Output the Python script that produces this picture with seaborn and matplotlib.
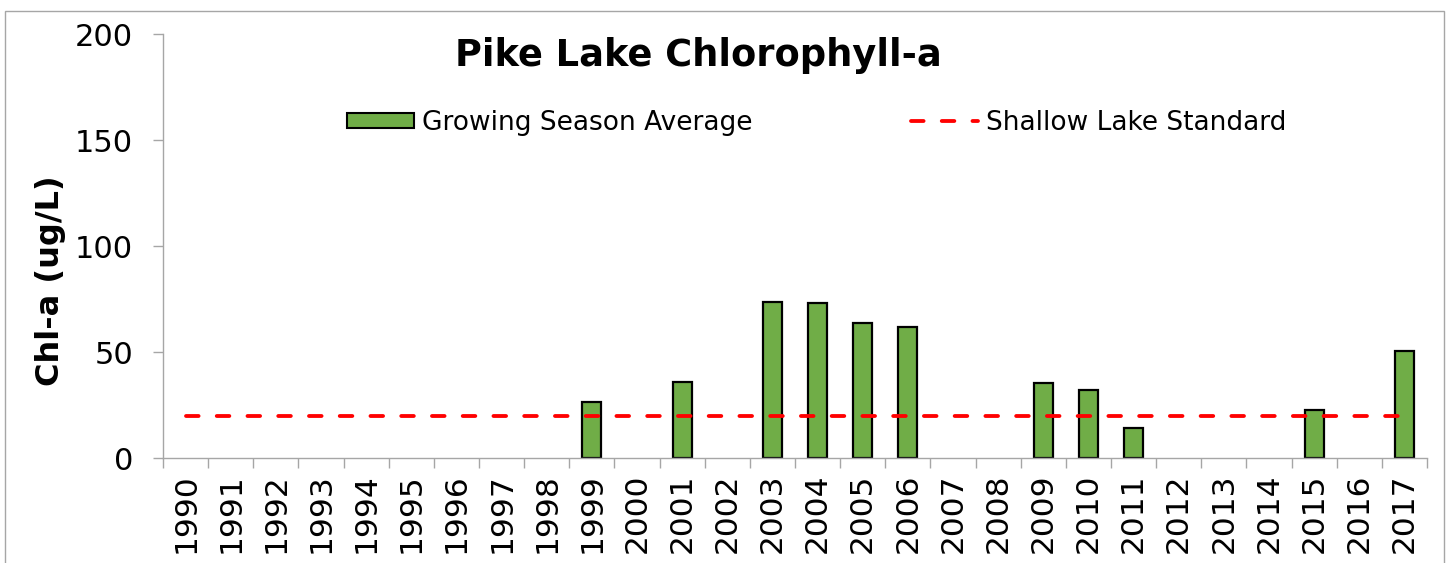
import numpy as np
import pandas as pd
import matplotlib
matplotlib.use("Agg")
import matplotlib.pyplot as plt
from matplotlib.patches import Patch, Rectangle
from matplotlib.lines import Line2D
import seaborn as sns

# Dados: clorofila-a média da estação de crescimento, Pike Lake
anos = [str(a) for a in range(1990, 2018)]
anos_medidos = ["1999", "2001", "2003", "2004", "2005", "2006",
                "2009", "2010", "2011", "2015", "2017"]
chla_media = [26.6, 36.0, 73.7, 73.0, 63.5, 61.6, 35.5, 32.1, 14.0, 22.6, 50.6]
padrao_lago_raso = 20
yticks = [0, 50, 100, 150, 200]

dados = pd.DataFrame({"Ano": anos_medidos, "Chla": chla_media})
padrao = pd.DataFrame({"pos": np.arange(len(anos)),
                       "Chla": [padrao_lago_raso] * len(anos)})

sns.set_theme(style="ticks", rc={"text.color": "black",
                                 "xtick.labelcolor": "black",
                                 "ytick.labelcolor": "black",
                                 "axes.labelcolor": "black"})
plt.rcParams["font.family"] = ["DejaVu Sans"]

cinza = "#a6a6a6"
verde = "#70ad47"

fig = plt.figure(figsize=(14.52, 5.63), dpi=100)
ax = fig.add_axes([163 / 1452, 1 - 458 / 563, 1264 / 1452, 424 / 563])

sns.barplot(data=dados, x="Ano", y="Chla", order=anos, color=verde,
            edgecolor="black", linewidth=1.6, width=0.42, saturation=1, ax=ax)

sns.lineplot(data=padrao, x="pos", y="Chla", color="red", lw=2.75,
             linestyle=(0, (3.3, 4.75)), ax=ax)
for ln in ax.lines:
    ln.set_dash_capstyle("round")

ax.set_xlim(-0.5, len(anos) - 0.5)
ax.set_ylim(0, 200)
ax.set_yticks(yticks)
ax.set_xticks(np.arange(len(anos)))
ax.set_xticklabels(anos, rotation=90, fontsize=22.5)
ax.set_xticks(np.arange(len(anos) + 1) - 0.5, minor=True)
ax.tick_params(axis="x", which="major", length=0, pad=11)
ax.tick_params(axis="x", which="minor", length=7.5, width=1, color=cinza)
ax.tick_params(axis="y", length=7.5, width=1, color=cinza, labelsize=22, pad=14)

for lado in ["top", "right"]:
    ax.spines[lado].set_visible(False)
for lado in ["left", "bottom"]:
    ax.spines[lado].set_color(cinza)
    ax.spines[lado].set_linewidth(1)

ax.set_xlabel("")
ax.set_ylabel("Chl-a (ug/L)", fontsize=23, fontweight="bold", va="center")
ax.yaxis.set_label_coords((51 - 163) / 1264, (458 - 281) / 424)

fig.text(698 / 1452, 1 - 56 / 563, "Pike Lake Chlorophyll-a", fontsize=26.5,
         fontweight="bold", ha="center", va="center")

handles = [
    Patch(facecolor=verde, edgecolor="black", linewidth=1.5),
    Line2D([], [], color="red", lw=2.75, linestyle=(0, (3.3, 4.75)),
           dash_capstyle="round"),
]
fig.legend(handles, ["Growing Season Average", "Shallow Lake Standard"],
           loc="center left", bbox_to_anchor=(347 / 1452, 1 - 123 / 563),
           ncol=2, frameon=False, fontsize=19, borderpad=0, borderaxespad=0,
           handlelength=2.55, handleheight=0.52, handletextpad=0.3,
           columnspacing=6.0)

fig.patches.append(Rectangle((5 / 1452, -0.1), 1439 / 1452, 1.1 - 11 / 563,
                             transform=fig.transFigure, fill=False,
                             edgecolor=cinza, linewidth=1, clip_on=False))

fig.savefig("out.png", dpi=100)
